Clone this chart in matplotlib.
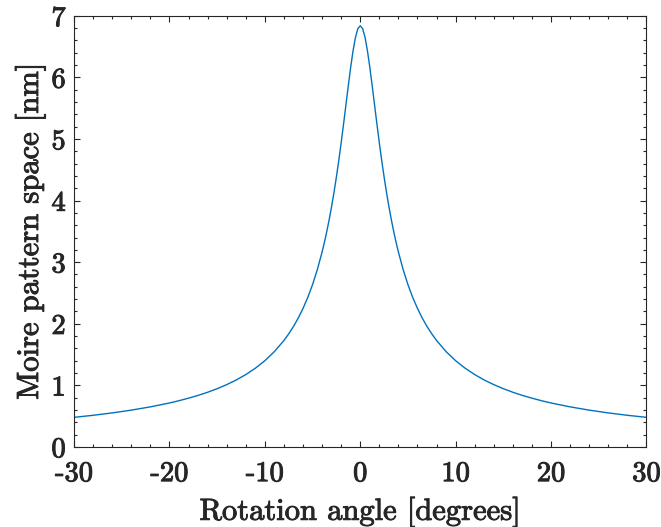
import matplotlib
matplotlib.use("Agg")
import matplotlib.pyplot as plt
import matplotlib.patheffects as pe
from matplotlib.ticker import MultipleLocator

# Data (rotation angle in degrees, moire spacing in nm)
angle_right = [0.0, 0.25, 0.5, 0.75, 1.0, 1.25, 1.5, 1.75, 2.0, 2.25, 2.5,
               2.75, 3.0, 3.25, 3.5, 3.75, 4.0, 4.5, 5.0, 5.5, 6.0, 6.5, 7.0,
               7.5, 8.0, 9.0, 10.0, 11.0, 12.0, 13.0, 14.0, 15.0, 16.0, 17.0,
               18.0, 19.0, 20.0, 22.0, 24.0, 26.0, 28.0, 30.0]
spacing_right = [6.838, 6.791, 6.651, 6.436, 6.168, 5.867, 5.554, 5.241, 4.938,
                 4.651, 4.383, 4.135, 3.906, 3.696, 3.503, 3.326, 3.164, 2.878,
                 2.635, 2.427, 2.248, 2.092, 1.955, 1.835, 1.728, 1.547, 1.399,
                 1.277, 1.174, 1.086, 1.011, 0.945, 0.887, 0.836, 0.791, 0.750,
                 0.713, 0.650, 0.597, 0.552, 0.513, 0.480]
# left half (negative angles) mirrors the right half
angles = [-a for a in angle_right[::-1]] + angle_right[1:]
spacing = spacing_right[::-1] + spacing_right[1:]

xticks = [-30, -20, -10, 0, 10, 20, 30]
yticks = [0, 1, 2, 3, 4, 5, 6, 7]

plt.rcParams['font.family'] = ['cmr10', 'DejaVu Serif']
plt.rcParams['axes.unicode_minus'] = False
plt.rcParams['mathtext.fontset'] = 'cm'

axcol = '#262626'
bold = [pe.withStroke(linewidth=0.7, foreground=axcol)]

fig = plt.figure(figsize=(6.61, 5.27), dpi=100)
ax = fig.add_axes([0.112, 0.152, 0.866, 0.818])

ax.plot(angles, spacing, color='#0072BD', lw=1.0)

ax.set_xlim(-30, 30)
ax.set_ylim(0, 7)
ax.set_xticks(xticks)
ax.set_yticks(yticks)
ax.set_xticklabels([str(t) for t in xticks])
ax.set_yticklabels([str(t) for t in yticks])
ax.xaxis.set_minor_locator(MultipleLocator(2))
ax.yaxis.set_minor_locator(MultipleLocator(0.2))

ax.tick_params(which='both', direction='in', top=True, right=True,
               colors=axcol, width=0.8)
ax.tick_params(which='major', length=4.3, labelsize=20.5)
ax.tick_params(axis='x', which='major', pad=10)
ax.tick_params(axis='y', which='major', pad=6)
ax.tick_params(which='minor', length=2.2)
for lab in ax.get_xticklabels() + ax.get_yticklabels():
    lab.set_path_effects(bold)
for s in ax.spines.values():
    s.set_color(axcol)
    s.set_linewidth(0.8)

ax.set_xlabel('Rotation angle [degrees]', fontsize=22, color=axcol,
              labelpad=7, path_effects=bold)
ax.set_ylabel('Moire pattern space [nm]', fontsize=22, color=axcol,
              labelpad=4, path_effects=bold)

fig.savefig('out.png', dpi=100)
